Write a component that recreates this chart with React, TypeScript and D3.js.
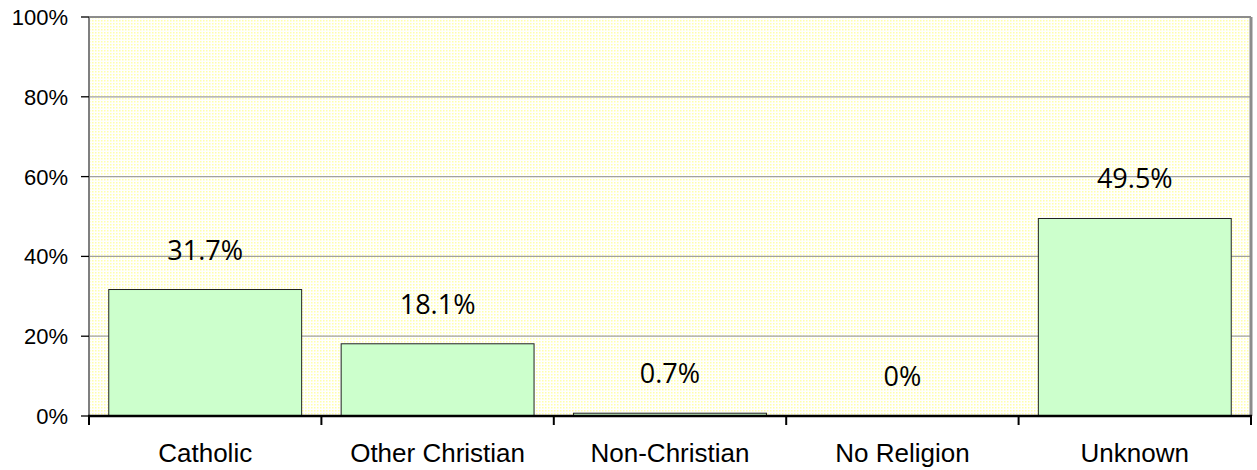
import React from "react";
import { scaleBand, scaleLinear, format } from "d3";

const categories = ["Catholic", "Other Christian", "Non-Christian", "No Religion", "Unknown"];
const shares = [31.7, 18.1, 0.7, 0, 49.5];
const yTicks = [0, 20, 40, 60, 80, 100];

const width = 1257;
const height = 470;
const margin = { top: 17, right: 6, bottom: 54, left: 89 };

const fmtTick = (v: number) => `${v}%`;
const fmtLabel = (v: number) => (v === 0 ? "0%" : `${format(".1f")(v)}%`);

const App = () => {
  const innerWidth = width - margin.left - margin.right;
  const innerHeight = height - margin.top - margin.bottom;

  const xScale = scaleBand<string>()
    .domain(categories)
    .range([0, innerWidth])
    .paddingInner(0.17)
    .paddingOuter(0.085);

  const yScale = scaleLinear().domain([0, 100]).range([innerHeight, 0]);

  const step = innerWidth / categories.length;

  return (
    <svg
      width={width}
      height={height}
      style={{ position: "absolute", left: 0, top: 0, background: "#fff" }}
    >
      <defs>
        <pattern id="dots" width={3} height={3} patternUnits="userSpaceOnUse">
          <rect width={3} height={3} fill="#ffffff" />
          <rect x={0} y={0} width={1.5} height={1.5} fill="#ffffaa" />
        </pattern>
      </defs>
      <g transform={`translate(${margin.left},${margin.top})`}>
        <rect width={innerWidth} height={innerHeight} fill="url(#dots)" />

        {/* gridlines */}
        {yTicks
          .filter((t) => t > 0 && t < 100)
          .map((t) => (
            <line
              key={t}
              x1={0}
              x2={innerWidth}
              y1={yScale(t)}
              y2={yScale(t)}
              stroke="#a0a0a0"
              strokeWidth={1.3}
            />
          ))}

        {/* plot border */}
        <line x1={0} x2={innerWidth} y1={0} y2={0} stroke="#8c8c8c" strokeWidth={2} />
        <line
          x1={innerWidth}
          x2={innerWidth}
          y1={0}
          y2={innerHeight}
          stroke="#8c8c8c"
          strokeWidth={3}
        />

        {/* bars */}
        {categories.map((c, i) => (
          <rect
            key={c}
            x={xScale(c)}
            y={yScale(shares[i])}
            width={xScale.bandwidth()}
            height={innerHeight - yScale(shares[i])}
            fill="#ccffcc"
            stroke="#222"
            strokeWidth={1}
          />
        ))}

        {/* value labels */}
        {categories.map((c, i) => (
          <text
            key={c}
            x={(xScale(c) ?? 0) + xScale.bandwidth() / 2}
            y={yScale(shares[i]) - 30}
            textAnchor="middle"
            fontFamily="'Open Sans', 'Noto Sans', sans-serif"
            fontSize={27}
            fill="#000"
          >
            {fmtLabel(shares[i])}
          </text>
        ))}

        {/* y axis */}
        <line x1={0} x2={0} y1={0} y2={innerHeight} stroke="#7f7f7f" strokeWidth={2} />
        {yTicks.map((t) => (
          <g key={t} transform={`translate(0,${yScale(t)})`}>
            <line x1={-8} x2={0} stroke="#000" strokeWidth={1.3} />
            <text
              x={-21}
              dy="0.36em"
              textAnchor="end"
              fontFamily="'Liberation Sans', Arial, sans-serif"
              fontSize={22}
              fill="#000"
            >
              {fmtTick(t)}
            </text>
          </g>
        ))}

        {/* x axis */}
        <line
          x1={-1}
          x2={innerWidth + 1}
          y1={innerHeight}
          y2={innerHeight}
          stroke="#000"
          strokeWidth={2.5}
        />
        {categories.concat([""]).map((_, i) => (
          <line
            key={i}
            x1={i * step}
            x2={i * step}
            y1={innerHeight}
            y2={innerHeight + 9}
            stroke="#000"
            strokeWidth={2}
          />
        ))}
        {categories.map((c) => (
          <text
            key={c}
            x={(xScale(c) ?? 0) + xScale.bandwidth() / 2}
            y={innerHeight + 46}
            textAnchor="middle"
            fontFamily="'Liberation Sans', Arial, sans-serif"
            fontSize={26}
            fill="#000"
          >
            {c}
          </text>
        ))}
      </g>
    </svg>
  );
};

export default App;
